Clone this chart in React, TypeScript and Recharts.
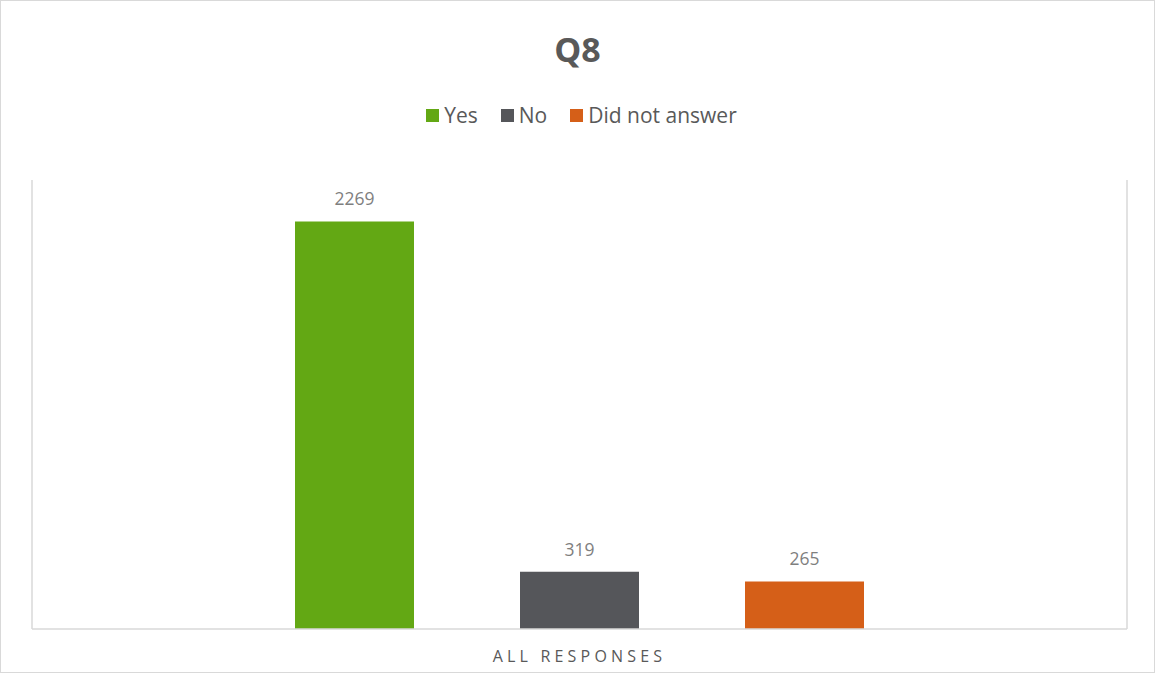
import { BarChart, Bar, XAxis, YAxis, LabelList } from "recharts";

const categories = ["ALL RESPONSES"];
const yesValues = [2269];
const noValues = [319];
const didNotAnswerValues = [265];

const series = [
  { key: "Yes", color: "#63A814" },
  { key: "No", color: "#55565A" },
  { key: "Did not answer", color: "#D55F18" },
];

const data = categories.map((c, i) => ({
  name: c,
  Yes: yesValues[i],
  No: noValues[i],
  "Did not answer": didNotAnswerValues[i],
}));

const FONT = "'Open Sans', 'Noto Sans', sans-serif";

const CategoryTick = (props: any) => {
  const { x, y, payload } = props;
  return (
    <text x={x} y={y + 25} textAnchor="middle" fill="#595959" fontFamily={FONT} fontSize={16} letterSpacing={4.2}>
      {payload.value}
    </text>
  );
};

export default function App() {
  return (
    <div style={{ position: "absolute", left: 0, top: 0, width: 1155, height: 673, background: "#fff", boxSizing: "border-box", border: "1px solid #d9d9d9" }}>
      <div style={{ position: "absolute", left: 0, right: 0, top: 24, textAlign: "center", fontFamily: FONT, fontWeight: 700, fontSize: 34, lineHeight: "48px", color: "#595959" }}>
        Q8
      </div>
      <div style={{ position: "absolute", left: 8, right: 0, top: 99, display: "flex", justifyContent: "center", gap: 23, fontFamily: FONT, fontSize: 21, lineHeight: "30px", color: "#595959" }}>
        {series.map((s) => (
          <div key={s.key} style={{ display: "flex", alignItems: "center", gap: 5 }}>
            <div style={{ width: 13, height: 13, background: s.color }} />
            <span>{s.key}</span>
          </div>
        ))}
      </div>
      <BarChart
        width={1153}
        height={671}
        data={data}
        margin={{ top: 179, right: 26, bottom: 13, left: 30 }}
        barSize={119}
        barGap={106}
      >
        <XAxis dataKey="name" axisLine={{ stroke: "#d9d9d9", strokeWidth: 1.5 }} tickLine={false} tick={<CategoryTick />} />
        <YAxis yAxisId="l" domain={[0, 2500]} width={1} tick={false} tickLine={false} axisLine={{ stroke: "#d9d9d9", strokeWidth: 1.5 }} />
        <YAxis yAxisId="r" orientation="right" domain={[0, 2500]} width={1} tick={false} tickLine={false} axisLine={{ stroke: "#d9d9d9", strokeWidth: 1.5 }} />
        {series.map((s) => (
          <Bar key={s.key} yAxisId="l" dataKey={s.key} fill={s.color} isAnimationActive={false}>
            <LabelList dataKey={s.key} position="top" offset={16} fill="#7f7f7f" fontFamily={FONT} fontSize={17.5} />
          </Bar>
        ))}
      </BarChart>
    </div>
  );
}
